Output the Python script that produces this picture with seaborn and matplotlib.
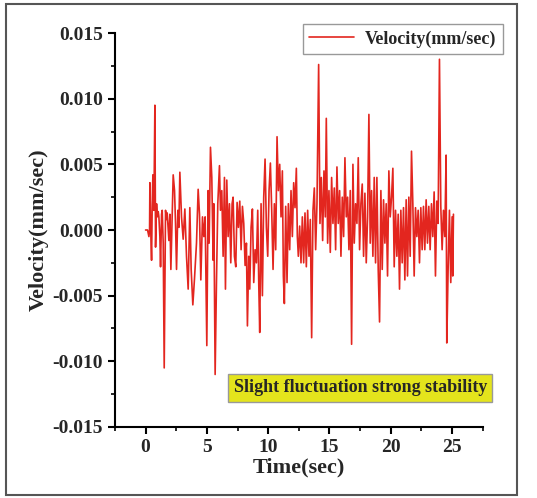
import matplotlib
matplotlib.use("Agg")
import matplotlib.pyplot as plt
import seaborn as sns
import pandas as pd
from matplotlib.patches import Rectangle
from matplotlib.ticker import MultipleLocator

# pixel-read positions (3x zoom) -> time in seconds
px = [435, 441, 445, 447, 448, 450, 453, 455, 457, 460, 463, 465, 468, 470, 473, 475, 478, 480, 483,
      485, 488, 491, 495, 498, 500, 505, 508, 511, 515, 518, 522, 525, 528, 532, 535, 538, 543, 548,
      553, 558, 563, 568, 572, 577, 582, 588, 593, 597, 601, 606, 610, 614, 619, 623, 626, 630, 634,
      638, 640, 644, 648, 652, 657, 660, 664, 668, 672, 675, 679, 683, 687, 691, 695, 698, 702, 706,
      710, 714, 718, 722, 726, 730, 734, 738, 741, 745, 748, 752, 756, 760, 764, 768, 772, 775, 778,
      782, 786, 790, 794, 798, 802, 806, 810, 814, 818, 822, 826, 830, 834, 838, 842, 846, 849, 852,
      856, 860, 864, 868, 872, 876, 880, 884, 888, 891, 894, 898, 902, 906, 910, 914, 918, 922, 926,
      930, 934, 938, 942, 946, 950, 955, 959, 963, 967, 971, 975, 978, 982, 986, 990, 994, 998, 1002,
      1006, 1010, 1014, 1018, 1022, 1026, 1030, 1034, 1038, 1042, 1046, 1050, 1054, 1058, 1062, 1066,
      1070, 1074, 1078, 1082, 1086, 1090, 1094, 1098, 1102, 1106, 1110, 1114, 1118, 1122, 1126, 1130,
      1134, 1138, 1142, 1146, 1150, 1154, 1158, 1162, 1166, 1170, 1174, 1178, 1182, 1186, 1190, 1194,
      1198, 1202, 1206, 1210, 1214, 1218, 1222, 1226, 1230, 1234, 1238, 1242, 1246, 1250, 1254, 1258,
      1262, 1266, 1270, 1274, 1278, 1282, 1286, 1290, 1294, 1298, 1302, 1306, 1310, 1314, 1318, 1322,
      1326, 1330, 1334, 1338, 1340, 1344, 1348, 1352, 1356, 1358, 1360]

velocity = [0.0, 0.0, -0.0005, 0.0, 0.0036, 0.0005, -0.0023, 0.002, 0.0042, 0.0015, 0.0095, -0.0013,
            0.002, 0.001, 0.0014, 0.001, -0.0005, -0.0028, 0.0012, 0.0015, -0.001, -0.0105, 0.0015,
            0.0008, 0.0013, -0.0008, 0.0012, -0.003, 0.001, 0.0042, 0.003, 0.0005, -0.003, 0.0015,
            0.0002, 0.0044, 0.001, -0.0007, 0.0016, -0.002, -0.0045, 0.0017, -0.003, -0.0057, -0.0037,
            -0.001, 0.0031, 0.0012, -0.0038, 0.001, -0.0005, 0.001, -0.0088, 0.003, -0.001, 0.0063,
            0.004, -0.0023, 0.002, -0.011, -0.004, 0.002, 0.0049, 0.0015, 0.003, -0.002, 0.004, -0.0045,
            0.0038, -0.0005, 0.002, -0.0025, 0.002, 0.0025, -0.002, -0.0028, 0.0021, 0.0002, 0.0022,
            -0.0015, 0.0018, 0.0005, -0.0027, -0.001, -0.0073, -0.002, -0.0045, 0.0002, 0.0016, -0.004,
            -0.0015, -0.0025, 0.0015, -0.004, -0.0078, 0.002, -0.005, 0.0025, 0.0054, 0.0002, -0.002,
            0.003, 0.0051, 0.0015, -0.003, 0.002, -0.0015, 0.0071, 0.003, 0.005, 0.001, 0.0045, -0.0035,
            -0.0056, 0.0018, -0.004, 0.002, -0.0015, 0.003, -0.0005, 0.0036, 0.0017, 0.0047, -0.0005,
            -0.002, 0.0003, -0.0025, 0.001, -0.0025, 0.0013, -0.0028, 0.0015, -0.002, 0.0008, -0.0082,
            0.0015, 0.0032, -0.0015, 0.002, 0.0126, 0.0005, 0.004, -0.0008, 0.0045, 0.001, 0.0085,
            -0.001, 0.003, -0.0017, 0.004, 0.0005, 0.0032, -0.0015, 0.0048, 0.0005, 0.003, -0.002,
            0.0025, -0.0005, 0.0055, 0.001, 0.0025, -0.0015, 0.003, -0.0087, 0.005, -0.001, 0.002,
            0.0005, 0.0055, -0.0015, 0.002, 0.0035, -0.002, 0.0028, -0.0025, 0.001, 0.0088, -0.001,
            0.003, -0.002, 0.004, -0.0025, 0.004, -0.003, -0.007, 0.003, -0.003, 0.0023, -0.001, 0.002,
            -0.0035, 0.0045, 0.001, 0.0025, 0.0047, -0.0028, 0.0015, -0.002, 0.0012, -0.0045, 0.0015,
            -0.0025, 0.0017, -0.0038, 0.0023, -0.0035, 0.0025, -0.002, 0.006, 0.002, -0.0035, 0.0017,
            -0.0005, 0.0015, -0.0025, 0.0017, -0.0015, 0.0018, -0.0015, 0.0023, -0.001, 0.0018, -0.0015,
            0.002, -0.0005, 0.0029, -0.0035, 0.0022, 0.0005, 0.013, 0.0018, -0.0015, 0.0015, -0.0005,
            0.0057, -0.0086, -0.003, 0.0015, -0.004, 0.001, -0.0035, 0.0012]

time_sec = [(p - 435) / 36.84 for p in px]
df = pd.DataFrame({"Time(sec)": time_sec, "Velocity(mm/sec)": velocity})

sns.set_style("ticks")
plt.rcParams["font.family"] = ["Liberation Serif", "DejaVu Serif"]
plt.rcParams["font.weight"] = "bold"

fig = plt.figure(figsize=(5.37, 4.98), dpi=100)
ax = fig.add_axes([0.214, 0.1426, 0.685, 0.7911])

sns.lineplot(data=df, x="Time(sec)", y="Velocity(mm/sec)", ax=ax, color="#e3261f",
             linewidth=1.2, label="Velocity(mm/sec)", estimator=None, sort=False)

ax.set_xlim(-2.5, 27.5)
ax.set_ylim(-0.015, 0.015)
ax.set_xticks([0, 5, 10, 15, 20, 25])
ax.set_yticks([-0.015, -0.010, -0.005, 0.0, 0.005, 0.010, 0.015])
ax.set_yticklabels(["-0.015", "-0.010", "-0.005", "0.000", "0.005", "0.010", "0.015"])
ax.xaxis.set_minor_locator(MultipleLocator(2.5))
ax.yaxis.set_minor_locator(MultipleLocator(0.0025))
ax.tick_params(axis="both", which="major", direction="out", length=5, width=1.5,
               labelsize=14, color="black")
ax.tick_params(axis="both", which="minor", direction="out", length=3, width=1.2, color="black")
for lab in ax.get_xticklabels() + ax.get_yticklabels():
    lab.set_fontweight("bold")
for s in ["top", "right"]:
    ax.spines[s].set_visible(False)
for s in ["left", "bottom"]:
    ax.spines[s].set_linewidth(1.5)
    ax.spines[s].set_color("black")

ax.set_xlabel("Time(sec)", fontsize=16, fontweight="bold", labelpad=1)
ax.set_ylabel("Velocity(mm/sec)", fontsize=16, fontweight="bold", labelpad=3)

leg = ax.legend(loc="upper right", bbox_to_anchor=(1.054, 1.023), borderaxespad=0,
                fancybox=False, edgecolor="#999999", framealpha=1, handlelength=2.5,
                prop={"family": "Liberation Serif", "weight": "bold", "size": 13},
                borderpad=0.35, handletextpad=0.6)
leg.get_frame().set_linewidth(1.0)

ax.text(0.667, 0.100, "Slight fluctuation strong stability", transform=ax.transAxes,
        ha="center", va="center", fontsize=13, fontweight="bold",
        bbox=dict(boxstyle="square,pad=0.3", facecolor="#e4e41c", edgecolor="#999999",
                  linewidth=1.0))

fig.patches.append(Rectangle((0.011, 0.006), 0.952, 0.986, transform=fig.transFigure,
                             fill=False, edgecolor="#555555", linewidth=1.5))

fig.savefig("out.png", dpi=100)
